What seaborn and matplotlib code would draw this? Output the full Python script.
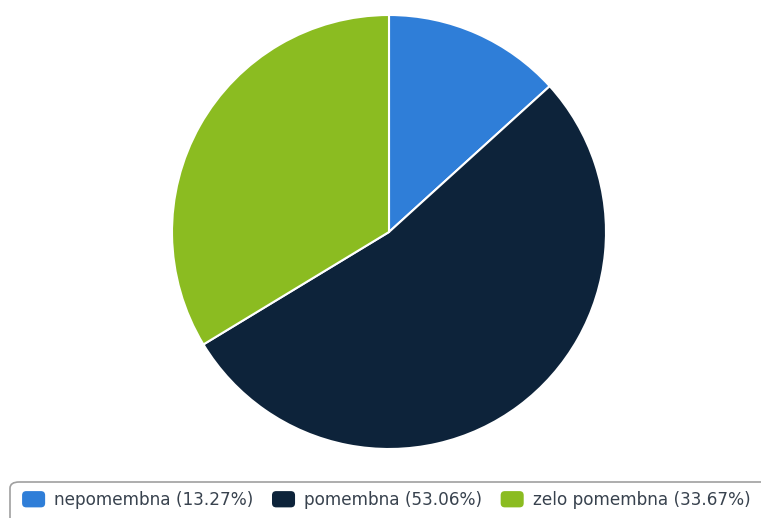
import matplotlib
matplotlib.use("Agg")
import matplotlib.pyplot as plt
from matplotlib.patches import Patch, FancyBboxPatch
from matplotlib.legend_handler import HandlerPatch
import seaborn as sns

categories = ["nepomembna", "pomembna", "zelo pomembna"]
shares = [13.27, 53.06, 33.67]
colors = ["#2f7ed8", "#0d233a", "#8bbc21"]

sns.set_theme(style="white")
plt.rcParams["font.family"] = ["DejaVu Sans"]

W, H = 761, 518
fig = plt.figure(figsize=(W / 100, H / 100), dpi=100)

# pie area: centre (389, 232) px from top-left, radius 217 px
cx, cy, r = 389, 232, 217
ax = fig.add_axes([(cx - r) / W, (H - cy - r) / H, 2 * r / W, 2 * r / H])
ax.pie(shares, colors=colors, startangle=90, counterclock=False,
       wedgeprops=dict(edgecolor="white", linewidth=1.5))
ax.set_aspect("equal")
ax.set_xlim(-1, 1)
ax.set_ylim(-1, 1)
ax.axis("off")

# rounded legend frame running off the bottom-right edge
frame = FancyBboxPatch((10 / W, -40 / H), (W + 20) / W, (H - 482 + 40) / H,
                       boxstyle="round,pad=0,rounding_size=0.012",
                       transform=fig.transFigure, facecolor="white",
                       edgecolor="#a0a0a0", linewidth=1.2)
fig.patches.append(frame)


class RoundedSwatch(HandlerPatch):
    def create_artists(self, legend, orig_handle, xdescent, ydescent,
                       width, height, fontsize, trans):
        p = FancyBboxPatch((-xdescent, -ydescent), width, height,
                           boxstyle="round,pad=0,rounding_size=3",
                           facecolor=orig_handle.get_facecolor(),
                           edgecolor="none", transform=trans)
        return [p]


handles = [Patch(facecolor=c, edgecolor=c) for c in colors]
labels = [f"{n} ({v:.2f}%)" for n, v in zip(categories, shares)]
fig.legend(handles, labels, ncol=3, loc="center left",
           bbox_to_anchor=(17 / W, 1 - 500 / H), frameon=False,
           fontsize=12.2, labelcolor="#38424e", handlelength=1.36,
           handleheight=1.1, handletextpad=0.55, columnspacing=1.08,
           borderaxespad=0, borderpad=0.3,
           handler_map={Patch: RoundedSwatch()})

fig.savefig("out.png", dpi=100)
